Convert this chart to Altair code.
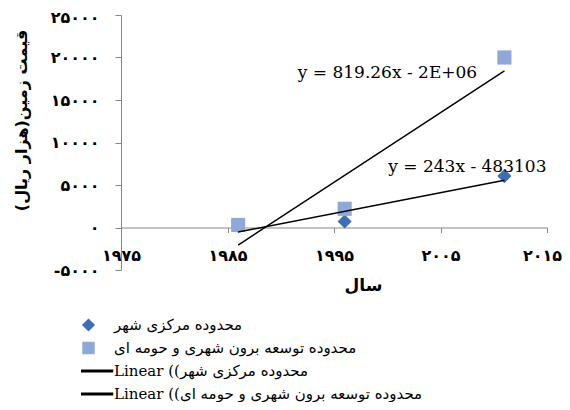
import altair as alt
import pandas as pd

# ---- data ----
years = [1986, 1996, 2011]
central = [200, 700, 6050]          # محدوده مرکزی شهر (diamonds)
suburban = [300, 2200, 20000]       # محدوده توسعه برون شهری و حومه ای (squares)
series_names = ["محدوده مرکزی شهر", "محدوده توسعه برون شهری و حومه ای"]
trend_prefix = "Linear (("
trend_names = [trend_prefix + series_names[0], trend_prefix + series_names[1]]

eq_labels = ["y = 819.26x - 2E+06", "y = 243x - 483103"]
eq_x = [1991.6, 2000.1]
eq_y = [18150, 7070]

y_ticks = [-5000, 0, 5000, 10000, 15000, 20000, 25000]
y_tick_labels = ["-۵۰۰۰", "۰", "۵۰۰۰", "۱۰۰۰۰", "۱۵۰۰۰", "۲۰۰۰۰", "۲۵۰۰۰"]
x_ticks = [1975, 1985, 1995, 2005, 2015]
x_tick_labels = ["۱۹۷۵", "۱۹۸۵", "۱۹۹۵", "۲۰۰۵", "۲۰۱۵"]
x_title = "سال"
y_title = "قیمت زمین(هزار ریال)"

# ---- styling ----
DIAMOND = "#3f6fb3"
SQUARE = "#8ea8d8"
AXIS_GRAY = "#868686"
FA_FONT = "DejaVu Sans"
SERIF = "DejaVu Serif"
LINE_PATH = "M-4.38,-0.14H4.38V0.14H-4.38Z"


def label_expr(vals, labels):
    expr = "''"
    for v, l in reversed(list(zip(vals, labels))):
        expr = f"datum.value == {v} ? '{l}' : ({expr})"
    return expr


df = pd.DataFrame({
    "year": years * 2,
    "value": central + suburban,
    "entry": [series_names[0]] * len(years) + [series_names[1]] * len(years),
})
df_eq = pd.DataFrame({"year": eq_x, "value": eq_y, "label": eq_labels})

domain_all = series_names + trend_names
color_scale = alt.Scale(domain=domain_all, range=[DIAMOND, SQUARE, "black", "black"])
shape_scale = alt.Scale(domain=domain_all, range=["diamond", "square", LINE_PATH, LINE_PATH])

legend = alt.Legend(
    title=None, orient="none", legendX=-40, legendY=300.5, direction="vertical",
    symbolSize=120, symbolOpacity=1, labelFont=f"{SERIF}, {FA_FONT}", labelFontSize=15,
    labelColor="black", labelOffset=18, rowPadding=4, clipHeight=19, padding=0,
    labelLimit=0,
)

x_axis = alt.Axis(
    values=x_ticks, labelExpr=label_expr(x_ticks, x_tick_labels), offset=-42.5,
    tickSize=5, labelPadding=23, labelBaseline="middle", labelFont=FA_FONT,
    labelFontSize=16, labelFontWeight="bold", labelColor="black", labelFlush=False,
    labelOffset={"condition": {"test": f"datum.value == {x_ticks[-1]}", "value": -5}, "value": 0},
    labelOverlap=False, domainColor=AXIS_GRAY, tickColor=AXIS_GRAY, grid=False,
    title=x_title, titleFont=FA_FONT, titleFontSize=17, titleFontWeight="bold",
    titleColor="black", titleX=242, titleY=58, titleBaseline="middle", titleAlign="center",
)
y_axis = alt.Axis(
    values=y_ticks, labelExpr=label_expr(y_ticks, y_tick_labels),
    tickSize=6, labelPadding=16, labelBaseline="middle", labelFont=FA_FONT,
    labelFontSize=16, labelFontWeight="bold", labelColor="black", labelFlush=False,
    labelOffset={"condition": {"test": f"datum.value == {y_ticks[-1]}", "value": 2}, "value": 0},
    labelOverlap=False, domainColor=AXIS_GRAY, tickColor=AXIS_GRAY, grid=False,
    title=y_title, titleFont=FA_FONT, titleFontSize=16, titleFontWeight="bold",
    titleColor="black", titleX=-100, titleY=105, titleBaseline="middle",
    titleAlign="center", titleAngle=270,
)

x_enc = alt.X("year:Q", scale=alt.Scale(domain=[1975, 2015], nice=False, zero=False), axis=x_axis)
y_enc = alt.Y("value:Q", scale=alt.Scale(domain=[-5000, 25000], nice=False, zero=False), axis=y_axis)

points = alt.Chart(df).mark_point(filled=True, opacity=1, size=200).encode(
    x=x_enc, y=y_enc,
    color=alt.Color("entry:N", scale=color_scale, legend=legend, sort=domain_all),
    shape=alt.Shape("entry:N", scale=shape_scale, legend=legend, sort=domain_all),
)

lines = alt.Chart(df).transform_regression(
    "year", "value", groupby=["entry"], method="linear"
).transform_calculate(
    entry=f"'{trend_prefix}' + datum.entry"
).mark_line(strokeWidth=1.5).encode(
    x="year:Q", y="value:Q",
    color=alt.Color("entry:N", scale=color_scale, legend=legend, sort=domain_all),
)

eqs = alt.Chart(df_eq).mark_text(
    align="left", baseline="middle", font=SERIF, fontSize=17, color="black"
).encode(x="year:Q", y="value:Q", text="label:N")

chart = alt.layer(points, lines, eqs).properties(
    width=426, height=255, autosize="none",
    padding={"left": 113, "top": 7, "right": 15, "bottom": 132},
).configure_view(strokeWidth=0)

chart.save("out.html", embed_options={"renderer": "svg", "actions": False})
